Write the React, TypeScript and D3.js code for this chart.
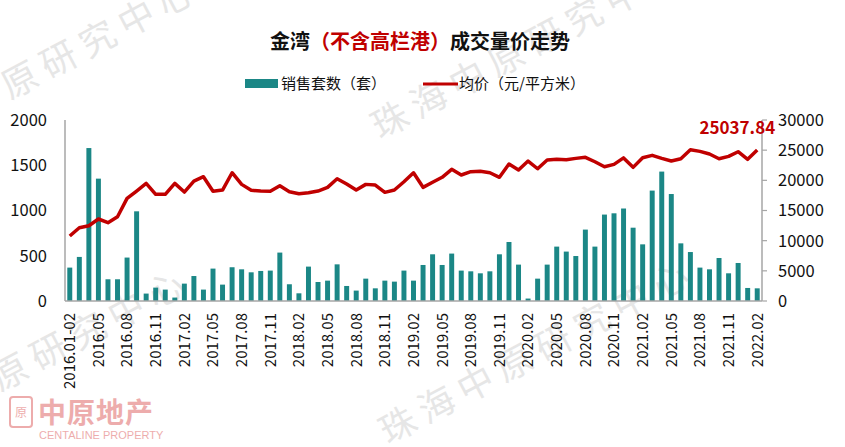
import React from "react";
import * as d3 from "d3";

const categories: string[] = (() => {
  const out: string[] = ["2016.01-02"];
  for (let y = 2016; y <= 2022; y++) {
    for (let m = 1; m <= 12; m++) {
      if (y === 2016 && m < 3) continue;
      if (y === 2022 && m > 2) continue;
      out.push(`${y}.${String(m).padStart(2, "0")}`);
    }
  }
  return out;
})();

const salesUnits: number[] = [
  369, 487, 1690, 1352, 240, 240, 480, 991, 82, 148, 126, 38, 192, 276, 126,
  358, 181, 373, 350, 317, 332, 336, 535, 185, 85, 380, 210, 225, 405, 166,
  115, 247, 140, 225, 214, 336, 225, 398, 516, 398, 524, 336, 328, 306,
  328, 516, 652, 402, 27, 247, 402, 601, 546, 497, 789, 601, 955, 969, 1022,
  810, 626, 1220, 1430, 1182, 637, 541, 369, 350, 475, 306, 420, 144, 140,
];

const avgPrice: number[] = [
  10770, 12150, 12480, 13590, 12980, 13970, 17010, 18230, 19500, 17680, 17680, 19500, 18060, 19880, 20600,
  18180, 18390, 21260, 19330, 18340, 18230, 18180, 19110, 18110, 17780, 17950, 18230, 18840, 20270, 19400,
  18390, 19330, 19220, 18010, 18390, 19770, 21260, 18840, 19670, 20500, 21820, 20880, 21430, 21490,
  21260, 20500, 22700, 21710, 23200, 21920, 23360, 23480, 23420, 23640, 23810, 23080, 22250, 22650, 23720,
  22150, 23740, 24140, 23640, 23200, 23580, 25070, 24800, 24360, 23580, 23970, 24740, 23480, 25037.84,
];

const leftTicks: number[] = [0, 500, 1000, 1500, 2000];
const rightTicks: number[] = [0, 5000, 10000, 15000, 20000, 25000, 30000];

const TITLE_BLACK_1 = "金湾";
const TITLE_RED = "（不含高栏港）";
const TITLE_BLACK_2 = "成交量价走势";
const LEGEND_BAR = "销售套数（套）";
const LEGEND_LINE = "均价（元/平方米）";

const W = 845;
const H = 447;
const M = { left: 65, right: 762, top: 120, bottom: 301 };
const TEAL = "#1b8786";
const RED = "#c00000";
const FONT = "'Noto Sans CJK SC', 'Noto Sans', sans-serif";

export default function App() {
  const x = d3
    .scaleBand<string>()
    .domain(categories)
    .range([M.left, M.right])
    .paddingInner(0.48)
    .paddingOuter(0.24);
  const yL = d3.scaleLinear().domain([0, 2000]).range([M.bottom, M.top]);
  const yR = d3.scaleLinear().domain([0, 30000]).range([M.bottom, M.top]);
  const cx = (c: string) => (x(c) as number) + x.bandwidth() / 2;

  const line = d3
    .line<number>()
    .x((_, i) => cx(categories[i]))
    .y((d) => yR(d));

  const lastIdx = avgPrice.length - 1;

  const wmStyle = { fill: "#dcdcdc", fontSize: 36, fontFamily: FONT } as const;
  const wm = (text: string, x0: number, y0: number, key: string) => (
    <text key={key} x={x0} y={y0} transform={`rotate(-28 ${x0} ${y0})`} style={wmStyle} letterSpacing={8} opacity={0.7}>
      {text}
    </text>
  );

  return (
    <svg width={W} height={H} style={{ position: "absolute", left: 0, top: 0, background: "#fff" }} fontFamily={FONT}>
      <rect x={0} y={0} width={W} height={H} fill="#fff" />
      {/* watermarks */}
      {wm("原研究中心", 10, 100, "w1")}
      {wm("珠海中原研究中心", 380, 140, "w2")}
      {wm("原研究中心", 0, 392, "w3")}
      {wm("珠海中原研究中心", 388, 445, "w4")}

      {/* logo */}
      <g opacity={0.55}>
        <rect x={10} y={397} width={22} height={30} rx={3} fill="none" stroke="#e06a6a" strokeWidth={2} />
        <text x={21} y={417} textAnchor="middle" fontSize={12} fill="#e06a6a">原</text>
        <text x={38} y={423} fontSize={28} fontWeight={700} fill="#e06a6a" letterSpacing={1}>中原地产</text>
        <text x={39} y={439} fontSize={11} fill="#e06a6a" fontFamily="'Liberation Sans', Arial, sans-serif">CENTALINE PROPERTY</text>
      </g>

      {/* title */}
      <text x={420} y={49} textAnchor="middle" fontSize={20} fontWeight={700} fill="#111">
        <tspan>{TITLE_BLACK_1}</tspan>
        <tspan fill={RED}>{TITLE_RED}</tspan>
        <tspan>{TITLE_BLACK_2}</tspan>
      </text>

      {/* legend */}
      <rect x={245} y={79} width={33} height={9} fill={TEAL} />
      <text x={281} y={89} fontSize={15} fill="#111">{LEGEND_BAR}</text>
      <line x1={423} x2={458} y1={84} y2={84} stroke={RED} strokeWidth={3} />
      <text x={459} y={89} fontSize={15} fill="#111">{LEGEND_LINE}</text>

      {/* bars */}
      {salesUnits.map((v, i) => (
        <rect
          key={categories[i]}
          x={x(categories[i])}
          y={yL(v)}
          width={x.bandwidth()}
          height={M.bottom - yL(v)}
          fill={TEAL}
        />
      ))}

      {/* axes */}
      <line x1={M.left} x2={M.left} y1={M.top} y2={M.bottom} stroke="#a6a6a6" strokeWidth={1.5} />
      <line x1={M.right} x2={M.right} y1={M.top} y2={M.bottom} stroke="#a6a6a6" strokeWidth={1.5} />
      <line x1={M.left} x2={M.right} y1={M.bottom} y2={M.bottom} stroke="#a6a6a6" strokeWidth={1.5} />
      {rightTicks.map((t) => (
        <g key={`r${t}`}>
          <line x1={M.right} x2={M.right + 5} y1={yR(t)} y2={yR(t)} stroke="#a6a6a6" strokeWidth={1.2} />
          <text x={778} y={yR(t)} dy="0.36em" fontSize={16.5} fill="#111">{t}</text>
        </g>
      ))}
      {leftTicks.map((t) => (
        <text key={`l${t}`} x={47} y={yL(t)} dy="0.36em" textAnchor="end" fontSize={16.5} fill="#111">{t}</text>
      ))}

      {/* x labels */}
      {categories.map((c, i) =>
        i % 3 === 0 ? (
          <text
            key={`x${c}`}
            transform={`translate(${cx(c)},${M.bottom + 12}) rotate(-90)`}
            textAnchor="end"
            dy="0.36em"
            fontSize={15}
            fill="#111"
          >
            {c}
          </text>
        ) : null
      )}

      {/* line */}
      <path d={line(avgPrice) || ""} fill="none" stroke={RED} strokeWidth={3.5} strokeLinejoin="round" />

      {/* annotation */}
      <text x={cx(categories[lastIdx]) + 18} y={134} textAnchor="end" fontSize={17} fontWeight={700} fill={RED}>
        {avgPrice[lastIdx].toFixed(2)}
      </text>
    </svg>
  );
}
